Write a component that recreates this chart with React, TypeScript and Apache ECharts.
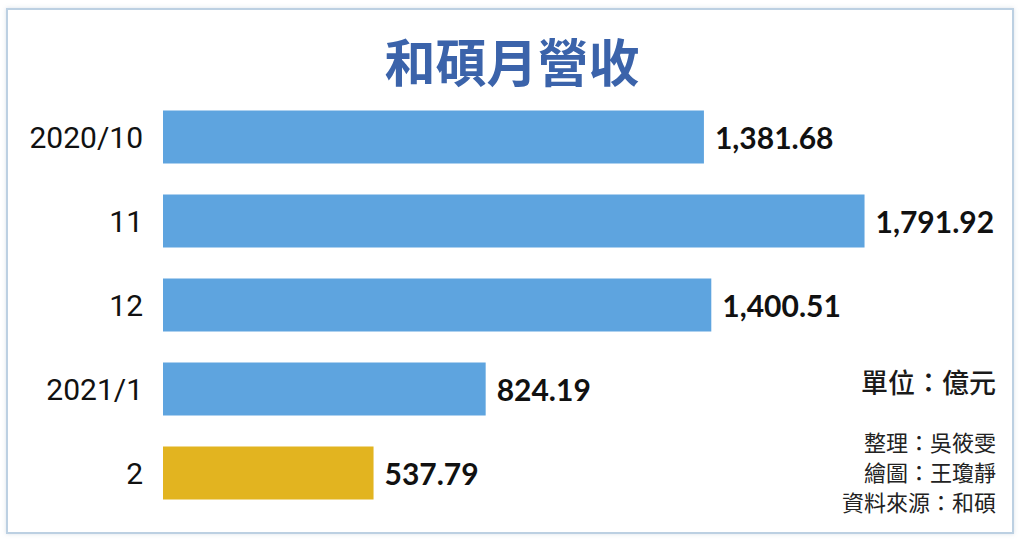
import React, { useEffect, useRef } from "react";
import * as echarts from "echarts";

const categories = ["2020/10", "11", "12", "2021/1", "2"];
const revenue = [1381.68, 1791.92, 1400.51, 824.19, 537.79];
const barColors = ["#5ea4df", "#5ea4df", "#5ea4df", "#5ea4df", "#e2b420"];
const titleText = "和碩月營收";
const unitText = "單位：億元";
const creditLines = ["整理：吳筱雯", "繪圖：王瓊靜", "資料來源：和碩"];

const fmt = (v: number) =>
  v.toLocaleString("en-US", { minimumFractionDigits: 2, maximumFractionDigits: 2 });

export default function App() {
  const ref = useRef<HTMLDivElement>(null);
  useEffect(() => {
    if (!ref.current) return;
    const chart = echarts.init(ref.current, undefined, { renderer: "svg" });
    const cjk = '"Noto Sans CJK TC", "Noto Sans", sans-serif';
    chart.setOption({
      animation: false,
      backgroundColor: "#ffffff",
      graphic: [
        {
          type: "rect",
          z: -10,
          shape: { x: 7, y: 9, width: 1006, height: 524 },
          style: { fill: "#ffffff", stroke: "#bcd0e2", lineWidth: 2, shadowBlur: 4, shadowColor: "rgba(150,170,190,0.35)" },
        },
        {
          type: "text",
          x: 512,
          y: 60,
          style: {
            text: titleText,
            align: "center",
            verticalAlign: "middle",
            fontSize: 51,
            fontWeight: "bold",
            fontFamily: cjk,
            fill: "#3b63aa",
          },
        },
        {
          type: "text",
          x: 996,
          y: 381,
          style: {
            text: unitText,
            align: "right",
            verticalAlign: "middle",
            fontSize: 27,
            fontWeight: 500,
            fontFamily: cjk,
            fill: "#1a1a1a",
          },
        },
        ...creditLines.map((t, i) => ({
          type: "text",
          x: 996,
          y: 441 + i * 30,
          style: {
            text: t,
            align: "right",
            verticalAlign: "middle",
            fontSize: 22,
            fontFamily: cjk,
            fill: "#222222",
          },
        })),
      ],
      grid: { left: 163, right: 78, top: 95, bottom: 34, containLabel: false },
      xAxis: {
        type: "value",
        min: 0,
        max: 2000,
        show: false,
      },
      yAxis: {
        type: "category",
        inverse: true,
        data: categories,
        axisLine: { show: false },
        axisTick: { show: false },
        splitLine: { show: false },
        axisLabel: {
          margin: 20,
          fontSize: 30,
          color: "#111111",
          fontFamily: "Roboto, sans-serif",
        },
      },
      series: [
        {
          type: "bar",
          barWidth: 53,
          data: revenue.map((v, i) => ({ value: v, itemStyle: { color: barColors[i] } })),
          label: {
            show: true,
            position: "right",
            distance: 11,
            fontSize: 30,
            fontWeight: "bold",
            fontFamily: "Lato, sans-serif",
            color: "#111111",
            formatter: (p: any) => fmt(p.value),
          },
        },
      ],
    });
    return () => chart.dispose();
  }, []);
  return (
    <div
      ref={ref}
      style={{ position: "fixed", left: 0, top: 0, width: 1024, height: 549 }}
    />
  );
}
